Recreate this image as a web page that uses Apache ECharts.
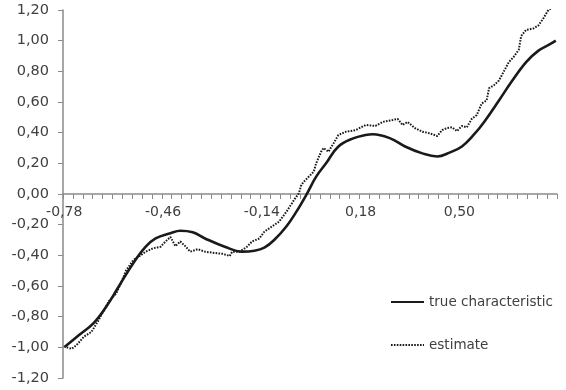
<!DOCTYPE html>
<html><head><meta charset="utf-8">
<script src="https://cdn.jsdelivr.net/npm/echarts@6/dist/echarts.min.js"></script>
<style>html,body{margin:0;padding:0;background:#fff}#c{width:566px;height:390px}</style>
</head><body><div id="c"></div>
<script>
// category axis: x from -0.78 in steps of 0.008 (200 categories)
const xStart = -0.78, xStep = 0.008, nCats = 200;
const categories = [];
for (let i = 0; i < nCats; i++) categories.push((xStart + i * xStep).toFixed(3));
const tickLabels = ['-0,78', '-0,46', '-0,14', '0,18', '0,50'];

// true characteristic
const trueX = [-0.78,-0.732,-0.684,-0.644,-0.604,-0.556,-0.516,-0.484,-0.436,-0.404,-0.364,-0.324,-0.26,-0.204,-0.164,-0.132,-0.10,-0.06,-0.028,0.004,0.036,0.068,0.108,0.156,0.196,0.22,0.276,0.324,0.38,0.428,0.468,0.508,0.548,0.58,0.628,0.668,0.716,0.756,0.796,0.812];
const trueY = [-1.00,-0.92,-0.84,-0.735,-0.605,-0.45,-0.344,-0.29,-0.256,-0.24,-0.25,-0.29,-0.344,-0.376,-0.37,-0.35,-0.30,-0.21,-0.115,-0.006,0.113,0.2,0.31,0.363,0.385,0.39,0.363,0.31,0.265,0.245,0.27,0.31,0.39,0.47,0.61,0.73,0.86,0.935,0.98,1.00];

// estimate
const estX = [-0.772,-0.756,-0.740,-0.716,-0.692,-0.668,-0.652,-0.636,-0.612,-0.596,
  -0.580,-0.556,-0.540,-0.516,-0.492,-0.468,-0.452,-0.436,-0.420,-0.404,
  -0.388,-0.372,-0.348,-0.324,-0.300,-0.268,-0.244,-0.236,-0.212,-0.188,
  -0.172,-0.148,-0.132,-0.116,-0.084,-0.060,-0.036,-0.020,-0.012,-0.004,
  0.012,0.028,0.036,0.052,0.060,0.076,0.092,0.108,0.132,0.164,
  0.196,0.228,0.252,0.284,0.300,0.316,0.332,0.356,0.380,0.404,
  0.428,0.444,0.460,0.476,0.492,0.508,0.524,0.540,0.556,0.572,
  0.588,0.596,0.612,0.628,0.644,0.660,0.676,0.692,0.700,0.716,
  0.740,0.756,0.772,0.788,0.796];
const estY = [-1.00,-1.01,-0.985,-0.93,-0.90,-0.82,-0.76,-0.70,-0.65,-0.58,
  -0.50,-0.43,-0.41,-0.376,-0.354,-0.344,-0.31,-0.28,-0.34,-0.31,
  -0.34,-0.376,-0.36,-0.376,-0.383,-0.39,-0.404,-0.376,-0.376,-0.344,
  -0.31,-0.29,-0.246,-0.224,-0.18,-0.115,-0.04,0.005,0.06,0.08,
  0.113,0.145,0.2,0.276,0.30,0.276,0.33,0.385,0.406,0.417,
  0.45,0.444,0.47,0.483,0.49,0.45,0.47,0.43,0.406,0.396,
  0.378,0.417,0.43,0.435,0.41,0.444,0.435,0.49,0.515,0.59,
  0.61,0.69,0.71,0.74,0.80,0.86,0.895,0.94,1.03,1.07,
  1.08,1.10,1.146,1.20,1.21];

const toIdx = x => Math.round((x - xStart) / xStep);
const trueData = trueX.map((x, i) => [toIdx(x), trueY[i]]);
const estData = estX.map((x, i) => [toIdx(x), estY[i]]);

const FONT = 'DejaVu Sans';
const axisColor = '#8a8a8a';
const textColor = '#404040';
const H = 390;

const chart = echarts.init(document.getElementById('c'), null, {renderer: 'canvas'});
chart.setOption({
  animation: false,
  backgroundColor: '#fff',
  grid: [
    {left: 63, right: 9, top: 10, bottom: 12, containLabel: false},
    // helper grid whose bottom edge sits at y = 0 of the main grid
    {left: 63, right: 9, top: 10, bottom: 196, containLabel: false}
  ],
  legend: {
    orient: 'vertical', left: 385, top: 290,
    itemWidth: 33, itemHeight: 14, itemGap: 29,
    itemStyle: {opacity: 0},
    textStyle: {fontFamily: FONT, fontSize: 13.5, color: textColor},
    data: ['true characteristic', 'estimate']
  },
  xAxis: [
    {
      type: 'category', gridIndex: 0, data: categories, boundaryGap: true, show: false
    },
    {
      type: 'category', gridIndex: 1, data: categories, boundaryGap: true,
      axisLine: {show: true, onZero: false, lineStyle: {color: axisColor, width: 1.5}},
      axisTick: {show: true, interval: 3, length: 5, lineStyle: {color: axisColor, width: 1}},
      axisLabel: {
        interval: 39, margin: 11, fontFamily: FONT, fontSize: 14, color: textColor,
        formatter: (v, idx) => tickLabels[Math.round(idx / 40)] || ''
      },
      splitLine: {show: false}
    }
  ],
  yAxis: [
    {
      type: 'value', gridIndex: 0, min: -1.2, max: 1.2, interval: 0.2,
      axisLine: {show: true, lineStyle: {color: axisColor, width: 1.5}},
      axisTick: {show: true, length: 5, lineStyle: {color: axisColor}},
      axisLabel: {
        margin: 14, fontFamily: FONT, fontSize: 14.5, color: textColor,
        formatter: v => (Math.abs(v) < 1e-9 ? 0 : v).toFixed(2).replace('.', ',')
      },
      splitLine: {show: false}
    },
    {type: 'value', gridIndex: 1, min: 0, max: 1, show: false}
  ],
  series: [
    {
      name: 'true characteristic', type: 'line', data: trueData,
      xAxisIndex: 0, yAxisIndex: 0,
      symbol: 'none', smooth: 0.4,
      lineStyle: {color: '#1a1a1a', width: 2.6},
      itemStyle: {color: '#1a1a1a'}, z: 3
    },
    {
      name: 'estimate', type: 'line', data: estData,
      xAxisIndex: 0, yAxisIndex: 0,
      symbol: 'none', smooth: false,
      lineStyle: {color: '#1a1a1a', width: 2, type: [1.6, 1.3]},
      itemStyle: {color: '#1a1a1a'}, z: 2
    }
  ]
});

// align helper grid's bottom with the pixel of y = 0 on the main value axis
const yZero = chart.convertToPixel({yAxisIndex: 0}, 0);
if (isFinite(yZero)) {
  chart.setOption({grid: [{}, {bottom: H - yZero}]});
}
</script>
</body></html>
